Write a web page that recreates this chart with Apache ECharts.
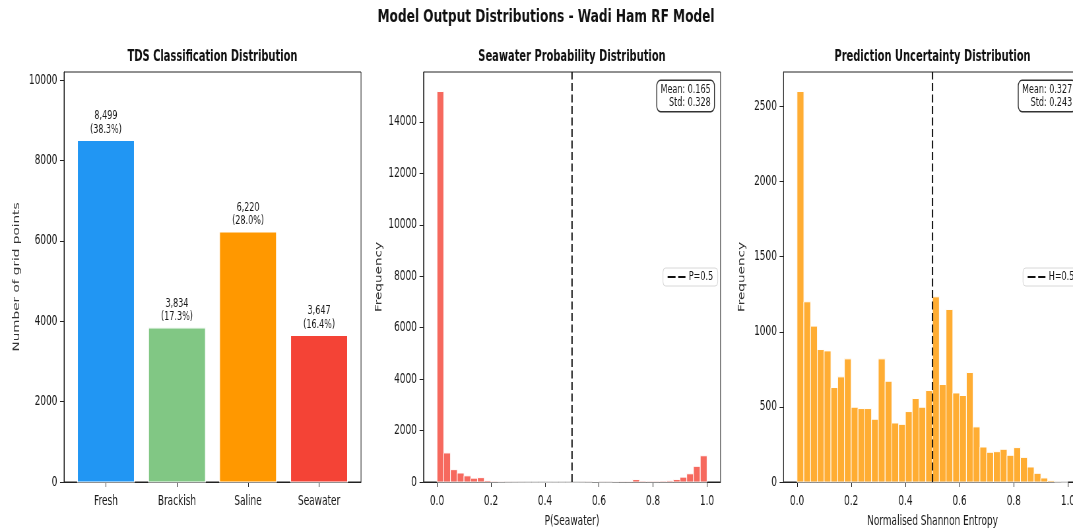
<!DOCTYPE html>
<html>
<head>
<meta charset="utf-8">
<script src="https://cdn.jsdelivr.net/npm/echarts@6/dist/echarts.min.js"></script>
<style>
html,body{margin:0;padding:0;background:#fff;overflow:hidden}
#wrap{width:1073px;height:529px;overflow:hidden;position:relative}
#c{position:absolute;left:0;top:0;transform-origin:0 0}
</style>
</head>
<body>
<div id="wrap"><div id="c"></div></div>
<script>
// ---------- data ----------
const categories = ['Fresh', 'Brackish', 'Saline', 'Seawater'];
const classCounts = [8499, 3834, 6220, 3647];
const classTicks = [0, 2000, 4000, 6000, 8000, 10000];

const binWidth = 0.025; // 40 bins over [0, 1]
const seawaterProbCounts = [
  15180, 1130, 480, 350, 240, 150, 170, 55, 30, 12,
  6, 4, 2, 1, 1, 0, 0, 1, 0, 0,
  1, 2, 5, 20, 5, 5, 15, 25, 25, 95,
  35, 30, 30, 35, 45, 100, 190, 320, 610, 1020
];
const seawaterTicks = [0, 2000, 4000, 6000, 8000, 10000, 12000, 14000];
const seawaterStats = { mean: '0.165', std: '0.328' };

const entropyCounts = [
  2600, 1200, 1038, 882, 873, 629, 700, 820, 498, 489,
  489, 418, 820, 671, 393, 384, 469, 556, 498, 609,
  1233, 649, 1149, 593, 576, 729, 367, 233, 198, 202,
  218, 178, 229, 164, 100, 58, 27, 9, 1, 0
];
const entropyTicks = [0, 500, 1000, 1500, 2000, 2500];
const entropyStats = { mean: '0.327', std: '0.243' };

const histXTicks = [0, 0.2, 0.4, 0.6, 0.8, 1.0];
const threshold = 0.5;

// ---------- page geometry (figure is horizontally compressed) ----------
const W = 1626, H = 529;
const S = 1073 / W;               // horizontal compression of the whole figure
const sx = px => px / S;          // screen x -> chart x

// ---------- styles ----------
const classColors = ['#2196F3', '#81C784', '#FF9800', '#F44336'];
const FONT = "'DejaVu Sans', sans-serif";
const TXT = '#1a1a1a';
const AX = '#222';
const TICK_FS = 13.6;

const total = classCounts.reduce((a, b) => a + b, 0);
const maxOf = a => Math.max.apply(null, a);

const grids = [
  { left: sx(64), top: 72, width: sx(297), height: 410 },
  { left: sx(423.5), top: 72, width: sx(297), height: 410 },
  { left: sx(783.5), top: 72, width: sx(298), height: 410 }
];

function xAxisCfg(idx, min, max, ticks, fmt, name) {
  return {
    gridIndex: idx, type: 'value', min: min, max: max,
    axisLine: { show: true, onZero: false, lineStyle: { color: AX, width: 1 } },
    axisTick: { show: true, length: 5, customValues: ticks, lineStyle: { color: AX, width: 1 } },
    axisLabel: { color: TXT, fontFamily: FONT, fontSize: TICK_FS, margin: 12, customValues: ticks, formatter: fmt },
    splitLine: { show: false },
    name: name || '', nameLocation: 'middle', nameGap: 32,
    nameTextStyle: { color: TXT, fontFamily: FONT, fontSize: TICK_FS }
  };
}
function yAxisCfg(idx, max, ticks, name, gap) {
  return {
    gridIndex: idx, type: 'value', min: 0, max: max,
    axisLine: { show: true, onZero: false, lineStyle: { color: AX, width: 1 } },
    axisTick: { show: true, length: 6, customValues: ticks, lineStyle: { color: AX, width: 1 } },
    axisLabel: { color: TXT, fontFamily: FONT, fontSize: TICK_FS, margin: 10, customValues: ticks, formatter: v => String(v) },
    splitLine: { show: false },
    name: name, nameLocation: 'middle', nameGap: gap, nameRotate: 90,
    nameTextStyle: { color: '#333', fontFamily: FONT, fontSize: TICK_FS }
  };
}

function histData(counts) {
  return counts.map((c, i) => [i * binWidth, (i + 1) * binWidth, c]);
}
function histRender(color) {
  return function (params, api) {
    const p0 = api.coord([api.value(0), api.value(2)]);
    const p1 = api.coord([api.value(1), 0]);
    return {
      type: 'rect',
      shape: { x: p0[0], y: p0[1], width: p1[0] - p0[0], height: p1[1] - p0[1] },
      style: { fill: color, stroke: '#ffffff', lineWidth: 1 }
    };
  };
}
const histFmt = v => v.toFixed(1);
const dashIcon = 'path://M0,0H12V2H0Z M16,0H27V2H16Z';

function legendCfg(left, name) {
  return {
    left: left, top: 268, padding: [3, 7], itemWidth: 27, itemHeight: 2.6, itemGap: 5,
    data: [{ name: name, icon: dashIcon }],
    backgroundColor: '#fff', borderColor: '#d8d8d8', borderWidth: 1, borderRadius: 4,
    textStyle: { color: TXT, fontFamily: FONT, fontSize: 12.2 }
  };
}
function statsCfg(rightX, stats) {
  return {
    type: 'text', x: rightX, y: 81, z: 10,
    style: {
      text: 'Mean: ' + stats.mean + '\nStd: ' + stats.std, align: 'right', verticalAlign: 'top',
      fill: TXT, font: '12.2px ' + FONT, lineHeight: 13, backgroundColor: '#fff',
      borderColor: '#333', borderWidth: 1.4, borderRadius: 5, padding: [2, 5]
    }
  };
}

const option = {
  animation: false,
  backgroundColor: '#ffffff',
  title: [
    { text: 'Model Output Distributions - Wadi Ham RF Model', left: sx(546), top: 8, textAlign: 'center', padding: 0,
      textStyle: { fontFamily: FONT, fontWeight: 'bold', fontSize: 18.4, color: '#111' } },
    { text: 'TDS Classification Distribution', left: sx(212.5), top: 50, textAlign: 'center', padding: 0,
      textStyle: { fontFamily: FONT, fontWeight: 'bold', fontSize: 15, color: '#111' } },
    { text: 'Seawater Probability Distribution', left: sx(572), top: 50, textAlign: 'center', padding: 0,
      textStyle: { fontFamily: FONT, fontWeight: 'bold', fontSize: 15, color: '#111' } },
    { text: 'Prediction Uncertainty Distribution', left: sx(932.5), top: 50, textAlign: 'center', padding: 0,
      textStyle: { fontFamily: FONT, fontWeight: 'bold', fontSize: 15, color: '#111' } }
  ],
  grid: grids.map(g => Object.assign({
    show: true, borderColor: AX, borderWidth: 1, backgroundColor: 'transparent',
    containLabel: false, outerBoundsMode: 'none'
  }, g)),
  xAxis: [
    xAxisCfg(0, -0.59, 3.59, [0, 1, 2, 3], v => categories[Math.round(v)]),
    xAxisCfg(1, -0.05, 1.05, histXTicks, histFmt, 'P(Seawater)'),
    xAxisCfg(2, -0.05, 1.05, histXTicks, histFmt, 'Normalised Shannon Entropy')
  ],
  yAxis: [
    yAxisCfg(0, maxOf(classCounts) * 1.2, classTicks, 'Number of grid points', 65),
    yAxisCfg(1, maxOf(seawaterProbCounts) * 1.05, seawaterTicks, 'Frequency', 60.5),
    yAxisCfg(2, maxOf(entropyCounts) * 1.05, entropyTicks, 'Frequency', 56)
  ],
  legend: [legendCfg(sx(663), 'P=0.5'), legendCfg(sx(1023), 'H=0.5')],
  series: [
    {
      type: 'custom', xAxisIndex: 0, yAxisIndex: 0,
      data: classCounts.map((v, i) => [i, v]),
      encode: { x: 0, y: 1 },
      renderItem: function (params, api) {
        const i = api.value(0), v = api.value(1);
        const p0 = api.coord([i - 0.4, v]);
        const p1 = api.coord([i + 0.4, 0]);
        const top = api.coord([i, v]);
        const pct = (v / total * 100).toFixed(1);
        return {
          type: 'group',
          children: [
            { type: 'rect', shape: { x: p0[0], y: p0[1], width: p1[0] - p0[0], height: p1[1] - p0[1] },
              style: { fill: classColors[params.dataIndex], stroke: '#ffffff', lineWidth: 1.2 } },
            { type: 'text', x: top[0], y: top[1] - 4,
              style: { text: v.toLocaleString('en-US') + '\n(' + pct + '%)', align: 'center', verticalAlign: 'bottom',
                fill: TXT, font: '12.2px ' + FONT, lineHeight: 13.5 } }
          ]
        };
      }
    },
    {
      type: 'custom', xAxisIndex: 1, yAxisIndex: 1,
      data: histData(seawaterProbCounts), encode: { x: [0, 1], y: 2 },
      renderItem: histRender('rgba(244,67,54,0.8)')
    },
    {
      type: 'custom', xAxisIndex: 2, yAxisIndex: 2,
      data: histData(entropyCounts), encode: { x: [0, 1], y: 2 },
      renderItem: histRender('rgba(255,152,0,0.8)')
    },
    {
      name: 'P=0.5', type: 'line', xAxisIndex: 1, yAxisIndex: 1, z: 5,
      data: [[threshold, 0], [threshold, maxOf(seawaterProbCounts) * 1.05]],
      symbol: 'none', lineStyle: { color: '#111', width: 2, type: [8, 3.5] }, itemStyle: { color: '#111' }
    },
    {
      name: 'H=0.5', type: 'line', xAxisIndex: 2, yAxisIndex: 2, z: 5,
      data: [[threshold, 0], [threshold, maxOf(entropyCounts) * 1.05]],
      symbol: 'none', lineStyle: { color: '#111', width: 2, type: [8, 3.5] }, itemStyle: { color: '#111' }
    }
  ],
  graphic: [statsCfg(sx(714), seawaterStats), statsCfg(sx(1075.5), entropyStats)]
};

const el = document.getElementById('c');
el.style.width = W + 'px';
el.style.height = H + 'px';
el.style.transform = 'scaleX(' + S + ')';
const chart = echarts.init(el, null, { renderer: 'canvas', width: W, height: H });
chart.setOption(option);
</script>
</body>
</html>
